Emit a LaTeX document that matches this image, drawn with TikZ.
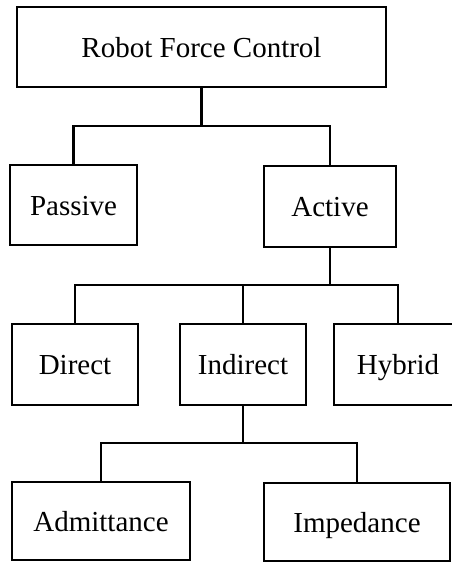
\documentclass[tikz,border=0pt]{standalone}
\usepackage{fontspec}
\setmainfont{Liberation Serif}
\begin{document}
\begin{tikzpicture}[x=1pt,y=-1pt,
  box/.style={draw, line width=2.9pt, outer sep=0pt, inner sep=0pt,
    minimum height=80pt, text height=20pt, text depth=0pt,
    font=\fontsize{29}{34}\selectfont},
  link/.style={line width=2.9pt, line cap=rect}]
  \clip (0,0) rectangle (452,562);
  \useasboundingbox (0,0) rectangle (452,562);

  % tree nodes
  \node[box, minimum width=369pt] (root) at (201.5,47) {Robot Force Control};
  \node[box, minimum width=127pt] (passive) at (73.5,205) {Passive};
  \node[box, minimum width=132pt, minimum height=81pt] (active) at (330,206.5) {Active};
  \node[box, minimum width=126pt, minimum height=81pt] (direct) at (75,364.5) {Direct};
  \node[box, minimum width=126pt, minimum height=81pt] (indirect) at (243,364.5) {Indirect};
  \node[box, minimum width=128pt, minimum height=81pt] (hybrid) at (398,364.5) {Hybrid};
  \node[box, minimum width=178pt, minimum height=78pt] (admit) at (101,521) {Admittance};
  \node[box, minimum width=186pt, minimum height=78pt] (imped) at (357,522) {Impedance};

  % branching levels
  \coordinate (j1) at (201.5,126);
  \coordinate (j2) at (330,285);
  \coordinate (j3) at (243,443);

  % connectors
  \draw[link] (root.south) -- (root.south |- j1);
  \draw[link] (passive.north) |- (j1) -| (active.north);
  \draw[link] (active.south) -- (active.south |- j2);
  \draw[link] (direct.north) |- (j2) -| (hybrid.north);
  \draw[link] (indirect.north) -- (indirect.north |- j2);
  \draw[link] (indirect.south) -- (indirect.south |- j3);
  \draw[link] (admit.north) |- (j3) -| (imped.north);
\end{tikzpicture}
\end{document}
